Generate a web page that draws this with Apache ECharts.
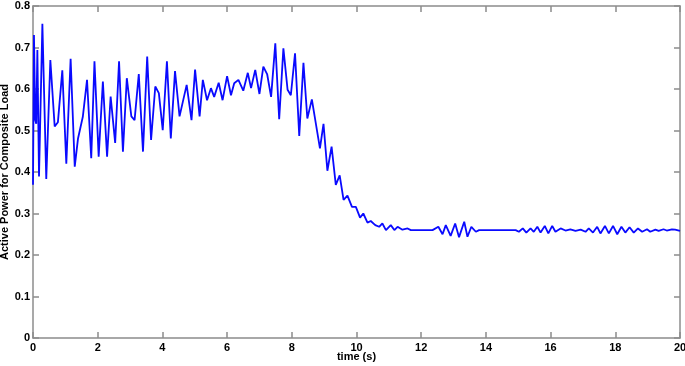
<!DOCTYPE html>
<html>
<head>
<meta charset="utf-8">
<script src="https://cdn.jsdelivr.net/npm/echarts@6/dist/echarts.min.js"></script>
<style>
html,body{margin:0;padding:0;background:#fff;}
#chart{width:685px;height:366px;}
</style>
</head>
<body>
<div id="chart"></div>
<script>
// time samples (s)
const time = [
  0, 0.03, 0.07, 0.10, 0.135, 0.186, 0.29, 0.41, 0.536, 0.67, 0.77, 0.906, 1.03, 1.163, 1.29, 1.39, 1.54, 1.67,
  1.80, 1.90, 2.03, 2.16, 2.29, 2.40, 2.54, 2.66, 2.78, 2.90, 3.04, 3.14, 3.27, 3.40, 3.53, 3.65, 3.78, 3.89,
  4.01, 4.14, 4.26, 4.39, 4.53, 4.75, 4.90, 5.01, 5.15, 5.25, 5.38, 5.50, 5.60, 5.74, 5.86, 6.00, 6.12, 6.22,
  6.35, 6.50, 6.64, 6.74, 6.87, 7.00, 7.12, 7.24, 7.36, 7.49, 7.61, 7.74, 7.87, 7.97, 8.10, 8.23, 8.36, 8.48,
  8.62, 8.87, 8.98, 9.10, 9.23, 9.36, 9.48, 9.60, 9.72, 9.86, 9.98, 10.11, 10.21, 10.34, 10.44, 10.58, 10.70,
  10.80, 10.91, 11.06, 11.17, 11.27, 11.42, 11.58, 11.68, 12.35, 12.53, 12.66, 12.76, 12.91, 13.05, 13.17,
  13.33, 13.43, 13.55, 13.69, 13.79, 14.92, 15.02, 15.14, 15.25, 15.38, 15.48, 15.59, 15.69, 15.82, 15.93,
  16.05, 16.15, 16.31, 16.46, 16.61, 16.77, 16.93, 17.08, 17.18, 17.31, 17.44, 17.54, 17.68, 17.80, 17.93,
  18.06, 18.19, 18.31, 18.44, 18.57, 18.70, 18.83, 18.98, 19.08, 19.24, 19.34, 19.49, 19.59, 19.75, 19.85, 20
];
// active power for composite load
const power = [
  0.369, 0.730, 0.525, 0.516, 0.694, 0.389, 0.757, 0.383, 0.670, 0.510, 0.520, 0.645, 0.420, 0.673, 0.413, 0.480, 0.533, 0.622,
  0.433, 0.667, 0.437, 0.618, 0.437, 0.582, 0.470, 0.667, 0.449, 0.626, 0.534, 0.525, 0.636, 0.449, 0.678, 0.477, 0.606, 0.590,
  0.501, 0.667, 0.481, 0.643, 0.534, 0.610, 0.525, 0.647, 0.534, 0.622, 0.573, 0.602, 0.581, 0.615, 0.573, 0.631, 0.585, 0.614,
  0.622, 0.596, 0.639, 0.602, 0.646, 0.588, 0.654, 0.635, 0.581, 0.710, 0.527, 0.698, 0.598, 0.585, 0.686, 0.487, 0.663, 0.529,
  0.575, 0.457, 0.516, 0.403, 0.461, 0.369, 0.392, 0.333, 0.343, 0.316, 0.316, 0.290, 0.300, 0.278, 0.282, 0.272, 0.268,
  0.276, 0.260, 0.272, 0.260, 0.268, 0.261, 0.264, 0.260, 0.260, 0.268, 0.250, 0.272, 0.246, 0.276, 0.243,
  0.280, 0.244, 0.268, 0.256, 0.260, 0.260, 0.256, 0.264, 0.254, 0.264, 0.256, 0.268, 0.254, 0.270, 0.252,
  0.270, 0.256, 0.264, 0.259, 0.262, 0.258, 0.261, 0.256, 0.264, 0.254, 0.268, 0.252, 0.270, 0.252, 0.270,
  0.250, 0.268, 0.254, 0.267, 0.254, 0.264, 0.256, 0.262, 0.256, 0.261, 0.258, 0.262, 0.259, 0.262, 0.261, 0.258
];
const xTicks = [0, 2, 4, 6, 8, 10, 12, 14, 16, 18, 20];
const yTicks = [0, 0.1, 0.2, 0.3, 0.4, 0.5, 0.6, 0.7, 0.8];

const chart = echarts.init(document.getElementById('chart'));
const font = 'Liberation Sans, Arial, sans-serif';
const frameColor = '#8c8c8c';
function axisCommon() {
  return {
    axisLine: { show: true, onZero: false, lineStyle: { color: frameColor, width: 1.5 } },
    axisTick: { show: true, inside: true, length: 6, lineStyle: { color: frameColor, width: 1.5 } },
    splitLine: { show: false }
  };
}
chart.setOption({
  animation: false,
  backgroundColor: '#ffffff',
  grid: { left: 33, right: 5, top: 6, bottom: 28, containLabel: false, outerBoundsMode: 'none' },
  xAxis: [
    Object.assign({
      type: 'value', min: xTicks[0], max: xTicks[xTicks.length - 1], interval: 2, position: 'bottom',
      name: 'time (s)', nameLocation: 'middle', nameGap: 13, nameMoveOverlap: false,
      nameTextStyle: { fontFamily: font, fontWeight: 'bold', fontSize: 11, color: '#000', verticalAlign: 'top' },
      axisLabel: { fontFamily: font, fontWeight: 'bold', fontSize: 11, color: '#000', margin: 4 }
    }, axisCommon()),
    Object.assign({
      type: 'value', min: xTicks[0], max: xTicks[xTicks.length - 1], interval: 2, position: 'top',
      axisLabel: { show: false }
    }, axisCommon())
  ],
  yAxis: [
    Object.assign({
      type: 'value', min: yTicks[0], max: yTicks[yTicks.length - 1], interval: 0.1, position: 'left',
      name: 'Active Power for Composite Load', nameLocation: 'middle', nameGap: 23, nameRotate: 90,
      nameMoveOverlap: false,
      nameTextStyle: { fontFamily: font, fontWeight: 'bold', fontSize: 11, color: '#000' },
      axisLabel: { fontFamily: font, fontWeight: 'bold', fontSize: 11, color: '#000', margin: 3,
        formatter: v => String(Math.round(v * 10) / 10) }
    }, axisCommon()),
    Object.assign({
      type: 'value', min: yTicks[0], max: yTicks[yTicks.length - 1], interval: 0.1, position: 'right',
      axisLabel: { show: false }
    }, axisCommon())
  ],
  series: [{
    type: 'line',
    xAxisIndex: 0, yAxisIndex: 0,
    showSymbol: false,
    data: time.map((t, i) => [t, power[i]]),
    lineStyle: { color: '#0a0aff', width: 1.8 },
    itemStyle: { color: '#0a0aff' }
  }]
});
</script>
</body>
</html>
